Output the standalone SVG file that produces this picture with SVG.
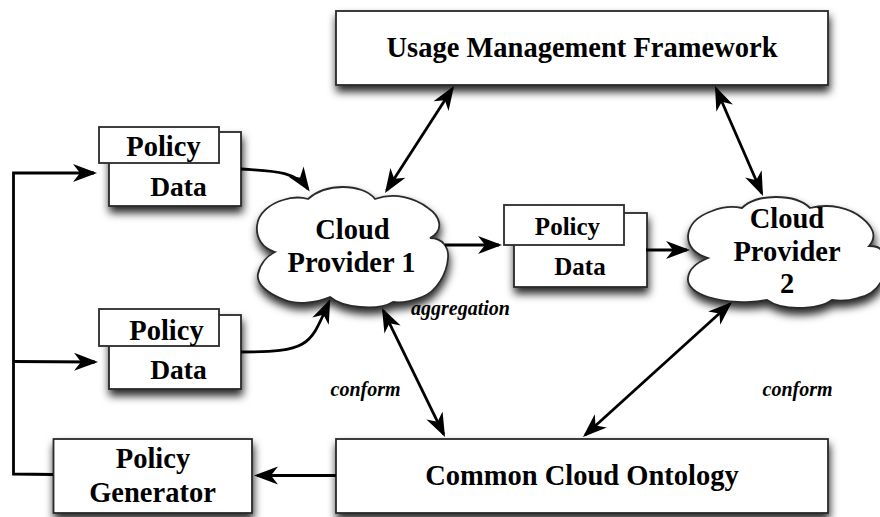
<svg xmlns="http://www.w3.org/2000/svg" width="880" height="517" viewBox="0 0 880 517">
<style>
text{font-family:"Liberation Serif","Times New Roman",serif;font-weight:bold;fill:#000;text-anchor:middle}
.b{font-size:28.500px}
.m{font-size:28.500px}
.d{font-size:27.500px}
.s{font-size:25px}
.l{font-size:20px;font-style:italic}
.n{fill:#fff;stroke:#2a2a2a;stroke-width:1.800}
.sh{filter:url(#ds)}
.c{fill:none;stroke:#000;stroke-width:2.800}
.a1{marker-end:url(#h)}
.a2{marker-start:url(#h);marker-end:url(#h)}
</style>
<defs>
<filter id="ds" x="-20%" y="-20%" width="140%" height="150%"><feDropShadow dx="1" dy="6" stdDeviation="4" flood-color="#000" flood-opacity="0.85"/></filter>
<marker id="h" markerUnits="userSpaceOnUse" markerWidth="30" markerHeight="24" viewBox="-25 -12 30 24" refX="0" refY="0" orient="auto-start-reverse"><path d="M3,0 L-21,-9 L-14,0 L-21,9 Z" fill="#000"/></marker>
</defs>
<g id="usage-management"><rect class="n sh" x="336" y="11" width="492" height="74"/><text class="b" x="582" y="57">Usage Management Framework</text></g>
<g id="common-ontology"><rect class="n sh" x="336" y="439" width="492" height="74"/><text class="b" x="582" y="485">Common Cloud Ontology</text></g>
<g id="policy-generator"><rect class="n sh" x="53.500" y="439" width="198.500" height="74"/><text class="m" x="153" y="468">Policy</text><text class="m" x="152.500" y="502">Generator</text></g>
<g id="card-1"><rect class="n sh" x="109" y="132" width="132" height="74"/><rect class="n" x="99" y="127" width="120" height="36"/><text class="m" x="163.500" y="156">Policy</text><text class="d" x="178.500" y="196">Data</text></g>
<g id="card-2"><rect class="n sh" x="109" y="315" width="132" height="74"/><rect class="n" x="99" y="309" width="120" height="37"/><text class="m" x="166.500" y="340">Policy</text><text class="d" x="178.500" y="379">Data</text></g>
<g id="card-3"><rect class="n sh" x="514" y="213" width="133" height="74"/><rect class="n" x="504" y="205" width="120" height="40"/><text class="s" x="567.500" y="235">Policy</text><text class="s" x="580" y="275">Data</text></g>
<g id="cloud-1"><path class="n sh" d="M308,199 C317,191 330,187 343,187 C356,187 369,191 375,199 C395,192 415,198 428,208 C440,216 445,230 430,238 C443,238 449,248 448,258 C447,274 436,292 422,297 C412,301 401,303 393,302 C385,307 372,308 360,307 C348,306 337,303 330,297 C316,303 297,305 285,300 C268,294 256,284 258,274 C260,264 267,256 275,252 C262,248 256,238 257,226 C258,213 270,204 283,200 C292,197 301,197 308,199 Z"/><text class="m" x="352.500" y="239">Cloud</text><text class="m" x="351.500" y="272">Provider 1</text></g>
<g id="cloud-2"><path class="n sh" d="M742,208 C750,200 762,197 776,197 C790,197 803,201 810,208 C830,203 850,208 862,218 C872,226 878,236 869,246 C876,246 880,248 881,250 L881,282 C876,291 868,296 858,298 C848,301 840,301 832,300 C824,306 812,308 798,308 C785,308 774,305 767,300 C750,304 725,302 708,297 C695,293 687,286 688,278 C689,268 698,262 708,258 C695,254 688,246 688,236 C689,224 698,216 712,211 C722,207 733,206 742,208 Z"/><text class="m" x="787" y="228">Cloud</text><text class="m" x="787" y="261">Provider</text><text class="m" x="787" y="293">2</text></g>
<g id="connectors">
<path class="c a1" d="M53,474.500 L13.500,474 L13.500,173 L94,173"/>
<path class="c a1" d="M13.500,361.500 L95,362"/>
<path class="c a1" d="M336,475.500 L257,475.500"/>
<path class="c a1" d="M241,169 C270,171 295,170 308,189"/>
<path class="c a1" d="M241,352 C310,352 310,345 329,302"/>
<path class="c a1" d="M445,245 L499,245"/>
<path class="c a1" d="M646,250 L687,250"/>
<path class="c a2" d="M452.400,88.500 L386.600,190.500"/>
<path class="c a2" d="M716.200,88.800 L761.800,193.200"/>
<path class="c a2" d="M383.300,310.700 L443.700,434.300"/>
<path class="c a2" d="M729.800,304 L585.200,435"/>
</g>
<g id="labels">
<text class="l" x="460.500" y="315">aggregation</text>
<text class="l" x="365.500" y="396">conform</text>
<text class="l" x="797.500" y="396">conform</text>
</g>
</svg>
